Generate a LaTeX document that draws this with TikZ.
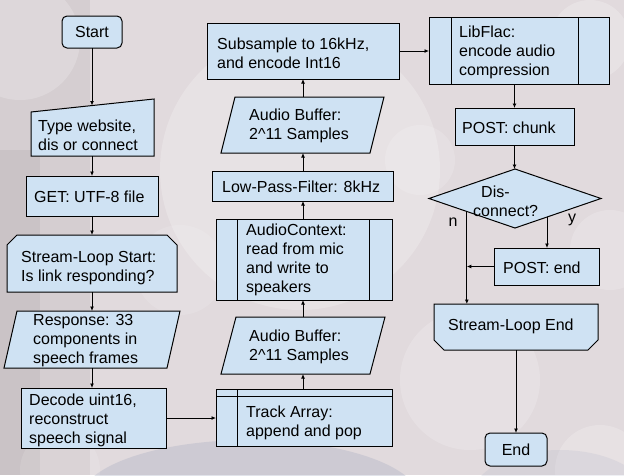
\documentclass[tikz,border=0pt]{standalone}
\usepackage{fontspec}
\setmainfont{Liberation Sans}
\usetikzlibrary{arrows.meta,calc}
\definecolor{boxblue}{HTML}{CFE2F3}
\definecolor{bgBase}{HTML}{E1DADD}
\definecolor{bgBlue}{HTML}{A9AEC2}
\begin{document}
\begin{tikzpicture}[x=1pt,y=-1pt,
  every node/.style={font=\fontsize{16}{19}\selectfont},
  frame/.style={rectangle,inner sep=0pt,outer sep=0pt},
  shp/.style={draw=black,line width=1pt,fill=boxblue},
  shpline/.style={draw=black,line width=1pt},
  txt/.style={anchor=west,align=left,inner sep=0pt},
  arr/.style={line width=0.9pt,-{Latex[length=4.5pt,width=4pt]}},
  lab/.style={inner sep=0pt}]
\useasboundingbox (0,0) rectangle (624,475);
% background
\fill[bgBase] (0,0) rectangle (624,475);
\begin{scope}
\clip (0,0) rectangle (624,475);
\fill[black,opacity=0.05] (0,0) rectangle (90,475);
\fill[black,opacity=0.05] (0,150) rectangle (40,475);
\fill[white,opacity=0.22] (300,170) circle (140);
\fill[white,opacity=0.18] (470,380) circle (70);
\fill[white,opacity=0.22] (590,40) circle (40);
\fill[white,opacity=0.20] (20,40) circle (60);
\fill[white,opacity=0.12] (180,270) circle (45);
\fill[white,opacity=0.20] (600,470) circle (45);
\fill[white,opacity=0.18] (610,250) circle (40);
\fill[white,opacity=0.15] (420,160) circle (35);
\fill[bgBlue,opacity=0.35] (250,500) ellipse (170 and 60);
\fill[bgBlue,opacity=0.18] (560,500) ellipse (90 and 50);
\fill[white,opacity=0.12] (60,470) circle (40);
\end{scope}

% ---------- column 1 ----------
\node[frame,shp,rounded corners=5pt,minimum width=60pt,minimum height=32pt] (start) at (92,32) {};
\node[frame,minimum width=123pt,minimum height=57pt] (type) at (92.5,127.5) {};
\draw[shp] (type.south west) -- ($(type.north west)+(0,13)$) coordinate (typeNW)
  -- (type.north east) -- (type.south east) -- cycle;
\coordinate (typeTop) at ($(typeNW)!0.5!(type.north east)$);
\node[frame,shp,minimum width=132pt,minimum height=40pt] (get) at (92,196) {};
\node[frame,minimum width=170pt,minimum height=57pt] (sls) at (92,263.5) {};
\draw[shp] (sls.south west) -- ($(sls.north west)+(0,10)$) -- ($(sls.north west)+(10,0)$)
  -- ($(sls.north east)+(-10,0)$) -- ($(sls.north east)+(0,10)$) -- (sls.south east) -- cycle;
\node[frame,minimum width=176pt,minimum height=57pt] (resp) at (92,339.5) {};
\draw[shp] (resp.south west) -- ($(resp.north west)+(13,0)$) -- (resp.north east)
  -- ($(resp.south east)+(-13,0)$) -- cycle;
\node[frame,shp,minimum width=145pt,minimum height=60pt] (dec) at (93.5,418) {};

% ---------- column 2 ----------
\node[frame,shp,minimum width=192pt,minimum height=56pt] (sub) at (303,51) {};
\node[frame,minimum width=163pt,minimum height=56pt] (ab1) at (302.5,125) {};
\draw[shp] (ab1.south west) -- ($(ab1.north west)+(14,0)$) -- (ab1.north east)
  -- ($(ab1.south east)+(-14,0)$) -- cycle;
\node[frame,shp,minimum width=181pt,minimum height=30pt] (lpf) at (302.5,186) {};
\node[frame,shp,minimum width=176pt,minimum height=81pt] (actx) at (304,259.5) {};
\draw[shpline] ($(actx.north west)+(21,0)$) -- ($(actx.south west)+(21,0)$);
\draw[shpline] ($(actx.north east)+(-23,0)$) -- ($(actx.south east)+(-23,0)$);
\node[frame,minimum width=164pt,minimum height=57pt] (ab2) at (303,345.5) {};
\draw[shp] (ab2.south west) -- ($(ab2.north west)+(15,0)$) -- (ab2.north east)
  -- ($(ab2.south east)+(-15,0)$) -- cycle;
\node[frame,shp,minimum width=176pt,minimum height=57pt] (track) at (304,417.5) {};
\draw[shpline] ($(track.north west)+(0,7)$) -- ($(track.north east)+(0,7)$);
\draw[shpline] ($(track.north west)+(21,0)$) -- ($(track.south west)+(21,0)$);

% ---------- column 3 ----------
\node[frame,shp,minimum width=180pt,minimum height=67pt] (lib) at (519,50.5) {};
\draw[shpline] ($(lib.north west)+(22,0)$) -- ($(lib.south west)+(22,0)$);
\draw[shpline] ($(lib.north east)+(-31,0)$) -- ($(lib.south east)+(-31,0)$);
\node[frame,shp,minimum width=119pt,minimum height=37pt] (pchunk) at (514.5,126.5) {};
\node[frame,minimum width=172pt,minimum height=59pt] (disc) at (515,198.5) {};
\draw[shp] (disc.west) -- (disc.north) -- (disc.east) -- (disc.south) -- cycle;
\coordinate (dn) at ($(disc.west)!0.44!(disc.south)$);
\coordinate (dy) at ($(disc.south)!0.372!(disc.east)$);
\node[frame,shp,minimum width=105pt,minimum height=37pt] (pend) at (546.5,266.5) {};
\node[frame,minimum width=164pt,minimum height=46pt] (sle) at (516,327) {};
\draw[shp] (sle.north west) -- ($(sle.south west)+(0,-10)$) -- ($(sle.south west)+(10,0)$)
  -- ($(sle.south east)+(-10,0)$) -- ($(sle.south east)+(0,-10)$) -- (sle.north east) -- cycle;
\node[frame,shp,rounded corners=5pt,minimum width=62pt,minimum height=33pt] (endn) at (516,449.5) {};

% ---------- texts ----------
\node[lab] (tstart) at (92,32) {Start};
\node[txt] (ttype) at (38,135) {Type website,\\dis or connect};
\node[txt] (tget) at (34,197) {GET: UTF-8 file};
\node[txt] (tsls) at (21,268) {Stream-Loop Start:\\Is link responding?};
\node[txt] (tresp) at (33,340.5) {Response: 33\\components in\\speech frames};
\node[txt] (tdec) at (29,420) {Decode uint16,\\reconstruct\\speech signal};
\node[txt] (tsub) at (217,53) {Subsample to 16kHz,\\and encode Int16};
\node[txt] (tab1) at (249,126) {Audio Buffer:\\2\^{}11 Samples};
\node[txt] (tlpf) at (222,187) {Low-Pass-Filter: 8kHz};
\node[txt] (tactx) at (246,260) {AudioContext:\\read from mic\\and write to\\speakers};
\node[txt] (tab2) at (249,347) {Audio Buffer:\\2\^{}11 Samples};
\node[txt] (ttrack) at (246,423) {Track Array:\\append and pop};
\node[txt] (tlib) at (459,52.5) {LibFlac:\\encode audio\\compression};
\node[txt] (tpchunk) at (462,128) {POST: chunk};
\node[txt] (tdisc) at (473,201) {\hspace{8pt}Dis-\\connect?};
\node[txt] (tpend) at (503,268) {POST: end};
\node[txt] (tsle) at (448,326) {Stream-Loop End};
\node[lab] (tend) at (516,450) {End};
\node[lab] (ln) at (453,222) {n};
\node[lab] (ly) at (572,220) {y};

% ---------- connectors ----------
\draw[arr] (start.south) -- (start.south |- typeTop);
\draw[arr] (start.south |- type.south) -- (start.south |- get.north);
\draw[arr] (get.south) -- (get.south |- sls.north);
\draw[arr] (sls.south) -- (sls.south |- resp.north);
\draw[arr] (resp.south) -- (resp.south |- dec.north);
\draw[arr] (dec.east) -- (dec.east -| track.west);
\draw[arr] (ab2.south |- track.north) -- (ab2.south);
\draw[arr] (ab2.north) -- (ab2.north |- actx.south);
\draw[arr] (ab2.north |- actx.north) -- (ab2.north |- lpf.south);
\draw[arr] (ab2.north |- lpf.north) -- (ab2.north |- ab1.south);
\draw[arr] (ab2.north |- ab1.north) -- (ab2.north |- sub.south);
\draw[arr] (sub.east) -- (sub.east -| lib.west);
\draw[arr] (pchunk.north |- lib.south) -- (pchunk.north);
\draw[arr] (pchunk.south) -- (pchunk.south |- disc.north);
\draw[arr] (dn) -- (dn |- sle.north);
\draw[arr] (dy) -- (dy |- pend.north);
\draw[arr] (pend.west) -- (dn |- pend.west);
\draw[arr] (sle.south) -- (endn.north);
\end{tikzpicture}
\end{document}
